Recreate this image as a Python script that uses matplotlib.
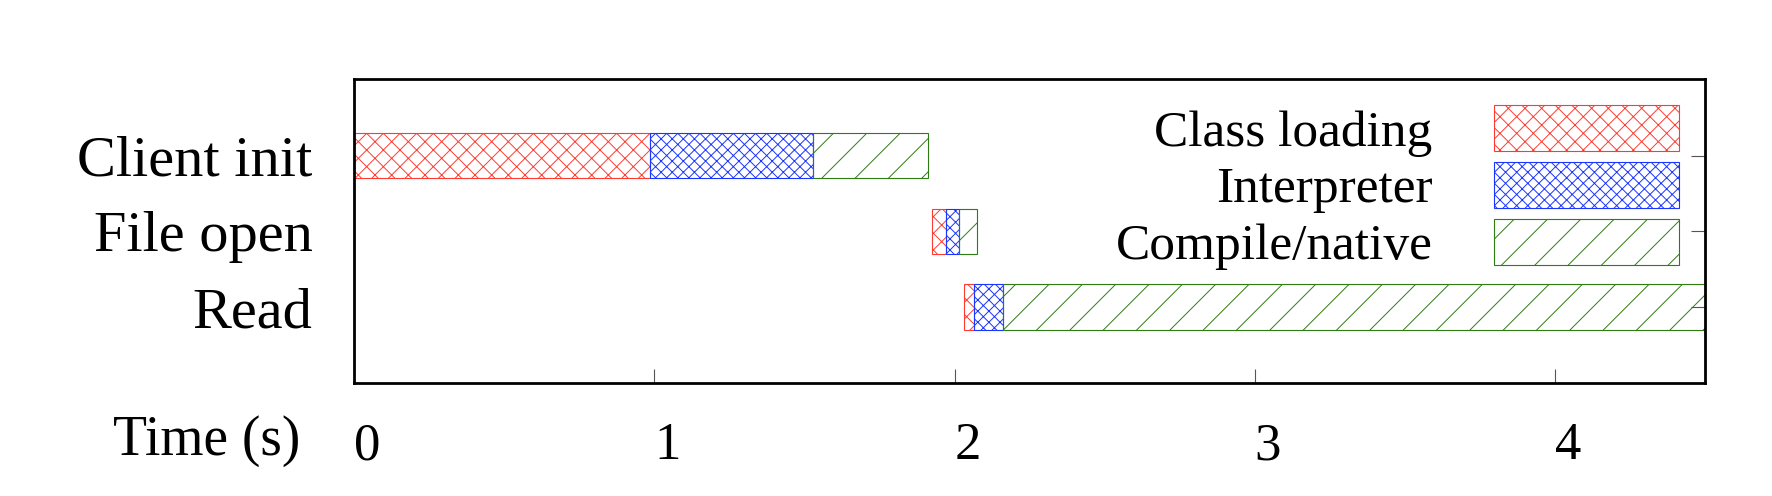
import numpy as np
import matplotlib
matplotlib.use("Agg")
import matplotlib.pyplot as plt

plt.rcParams["font.family"] = ["Liberation Serif", "DejaVu Serif"]
plt.rcParams["hatch.linewidth"] = 0.7

# ---------------------------------------------------------------------------
# Data (seconds)
# ---------------------------------------------------------------------------
phases = ["Client init", "File open", "Read"]
starts = [0.0, 1.924, 2.03]
class_loading = [0.985, 0.046, 0.035]
interpreter = [0.545, 0.045, 0.098]
compile_native = [0.38, 0.061, 2.45]

series = [
    ("Class loading", class_loading, "#ff3b30", "xx"),
    ("Interpreter", interpreter, "#1a35ff", "xxx"),
    ("Compile/native", compile_native, "#2e7d12", "/"),
]

fig = plt.figure(figsize=(17.72, 4.96), dpi=100)
ax = fig.add_axes([0.2, 0.227, 0.762, 0.613])

y = np.arange(len(phases))
left = np.array(starts)
for name, vals, col, hatch in series:
    ax.barh(y, vals, left=left, height=0.6, color="none", edgecolor=col,
            hatch=hatch, linewidth=0.8, label=name)
    left = left + np.array(vals)

ax.set_xlim(0, 4.5)
ax.set_ylim(3.01, -1.01)
ax.set_yticks(y)
ax.set_yticklabels(phases, fontsize=42)
ax.set_xticks([0, 1, 2, 3, 4])
ax.set_xticklabels(["0", "1", "2", "3", "4"], fontsize=38, ha="left")
ax.tick_params(axis="x", direction="in", length=10, pad=28, color="#555555")
ax.tick_params(axis="y", direction="in", length=10, pad=30, left=False,
               right=True, color="#555555")
for sp in ax.spines.values():
    sp.set_linewidth(2)

ax.text(-0.04, -0.19, "Time (s)", transform=ax.transAxes, fontsize=40,
        ha="right", va="center")

leg = ax.legend(loc="upper right", markerfirst=False, frameon=False,
                fontsize=37, handlelength=3.6, handleheight=1.0,
                labelspacing=0.1, handletextpad=1.2, borderaxespad=0.1)
for h in leg.legend_handles:
    h.set_edgecolor(h.get_edgecolor())

fig.savefig("out.png", dpi=100)
